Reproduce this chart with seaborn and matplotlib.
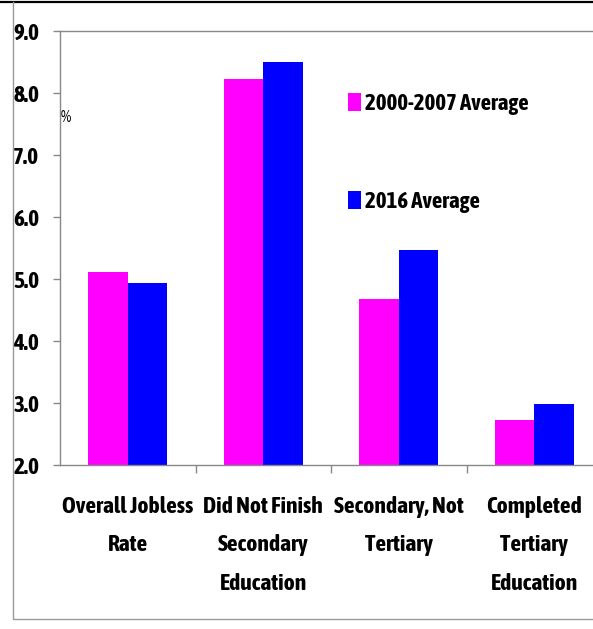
import matplotlib
matplotlib.use("Agg")
import matplotlib.pyplot as plt
from matplotlib import font_manager as fm
from matplotlib.lines import Line2D
from matplotlib.ticker import FixedLocator, NullFormatter
import pandas as pd
import seaborn as sns

# data (%)
categories = ["Overall Jobless\nRate", "Did Not Finish\nSecondary\nEducation",
              "Secondary, Not\nTertiary", "Completed\nTertiary\nEducation"]
periods = ["2000-2007 Average", "2016 Average"]
avg_2000_2007 = [5.11, 8.22, 4.68, 2.73]
avg_2016 = [4.94, 8.50, 5.47, 2.98]
y_ticks = [2.0, 3.0, 4.0, 5.0, 6.0, 7.0, 8.0, 9.0]
colors = ["#FF00FF", "#0000FF"]

df = pd.DataFrame({
    "category": categories * 2,
    "period": [periods[0]] * 4 + [periods[1]] * 4,
    "value": avg_2000_2007 + avg_2016,
})

# pick a narrow face, preferably one that has a bold weight
fonts = fm.fontManager.ttflist
is_narrow = lambda f: "Narrow" in f.name or "Condensed" in f.name
is_bold = lambda f: str(f.weight) in ("bold", "700", "heavy", "800", "black", "900")
narrow_bold = sorted({f.name for f in fonts if is_narrow(f) and is_bold(f)})
narrow = sorted({f.name for f in fonts if is_narrow(f)})
fam = (narrow_bold or narrow or ["DejaVu Sans"])[0]
plt.rcParams["font.family"] = [fam, "DejaVu Sans"]

W, H = 593, 629
PX = 100 / 72  # pixels per point
fig = plt.figure(figsize=(W / 100, H / 100), dpi=100)
renderer = fig.canvas.get_renderer()


def measure(text, size):
    t = fig.text(0, 0, text, fontsize=size, fontweight="bold")
    bb = t.get_window_extent(renderer)
    t.remove()
    return bb.width, bb.height


def fit_size(text, target_px, guess=15):
    # font size so that `text` is about target_px wide in bold
    return guess * target_px / measure(text, guess)[0]


tick_fs = fit_size("9.0", 26)
cat_fs = fit_size("Overall Jobless", 131)
leg_fs = fit_size("2000-2007 Average", 164)

cat_lp = measure("lp", cat_fs)[1]
leg_lp = measure("lp", leg_fs)[1]

ax = fig.add_axes([60 / W, (H - 465) / H, 542 / W, 434 / H])

sns.barplot(data=df, x="category", y="value", hue="period", palette=colors,
            width=0.58, saturation=1, linewidth=0, ax=ax)

ax.set_ylim(2, 9)
ax.set_xlim(-0.5, 3.5)
ax.set_yticks(y_ticks)
ax.set_yticklabels([f"{v:.1f}" for v in y_ticks], fontsize=tick_fs, fontweight="bold")
ax.set_xlabel("")
ax.set_ylabel("")

# category labels, ticks between groups
ax.tick_params(axis="x", which="major", length=0, pad=22)
ax.xaxis.set_minor_locator(FixedLocator([0.5, 1.5, 2.5]))
ax.xaxis.set_minor_formatter(NullFormatter())
ax.tick_params(axis="x", which="minor", length=6, color="#888888", width=1)
for lab in ax.get_xticklabels():
    lab.set_fontsize(cat_fs)
    lab.set_fontweight("bold")
    lab.set_linespacing(43.5 / cat_lp)
    lab.set_verticalalignment("top")
ax.tick_params(axis="y", length=5, color="#888888", width=1, pad=10)

for s in ax.spines.values():
    s.set_color("#888888")
    s.set_linewidth(1)

fs_px = leg_fs * PX
ax.legend(loc="upper left", bbox_to_anchor=(348 / W, 1 - 93 / H),
          bbox_transform=fig.transFigure, frameon=False,
          prop={"weight": "bold", "size": leg_fs}, borderpad=0,
          borderaxespad=0, handlelength=13 / fs_px, handleheight=19 / fs_px,
          handletextpad=4 / fs_px, labelspacing=(98 - leg_lp) / fs_px)

fig.text(61 / W, 1 - 118 / H, "%", fontsize=12, va="center", ha="left")

# outer frame like the original slide
fig.add_artist(Line2D([0, 1], [1 - 1.5 / H, 1 - 1.5 / H], color="black", lw=1.6,
                      transform=fig.transFigure))
fig.add_artist(Line2D([13 / W, 13 / W, 1], [1 - 2 / H, 1 - 619 / H, 1 - 619 / H],
                      color="#999999", lw=1, transform=fig.transFigure))

fig.savefig("out.png", dpi=100)
plt.close(fig)
